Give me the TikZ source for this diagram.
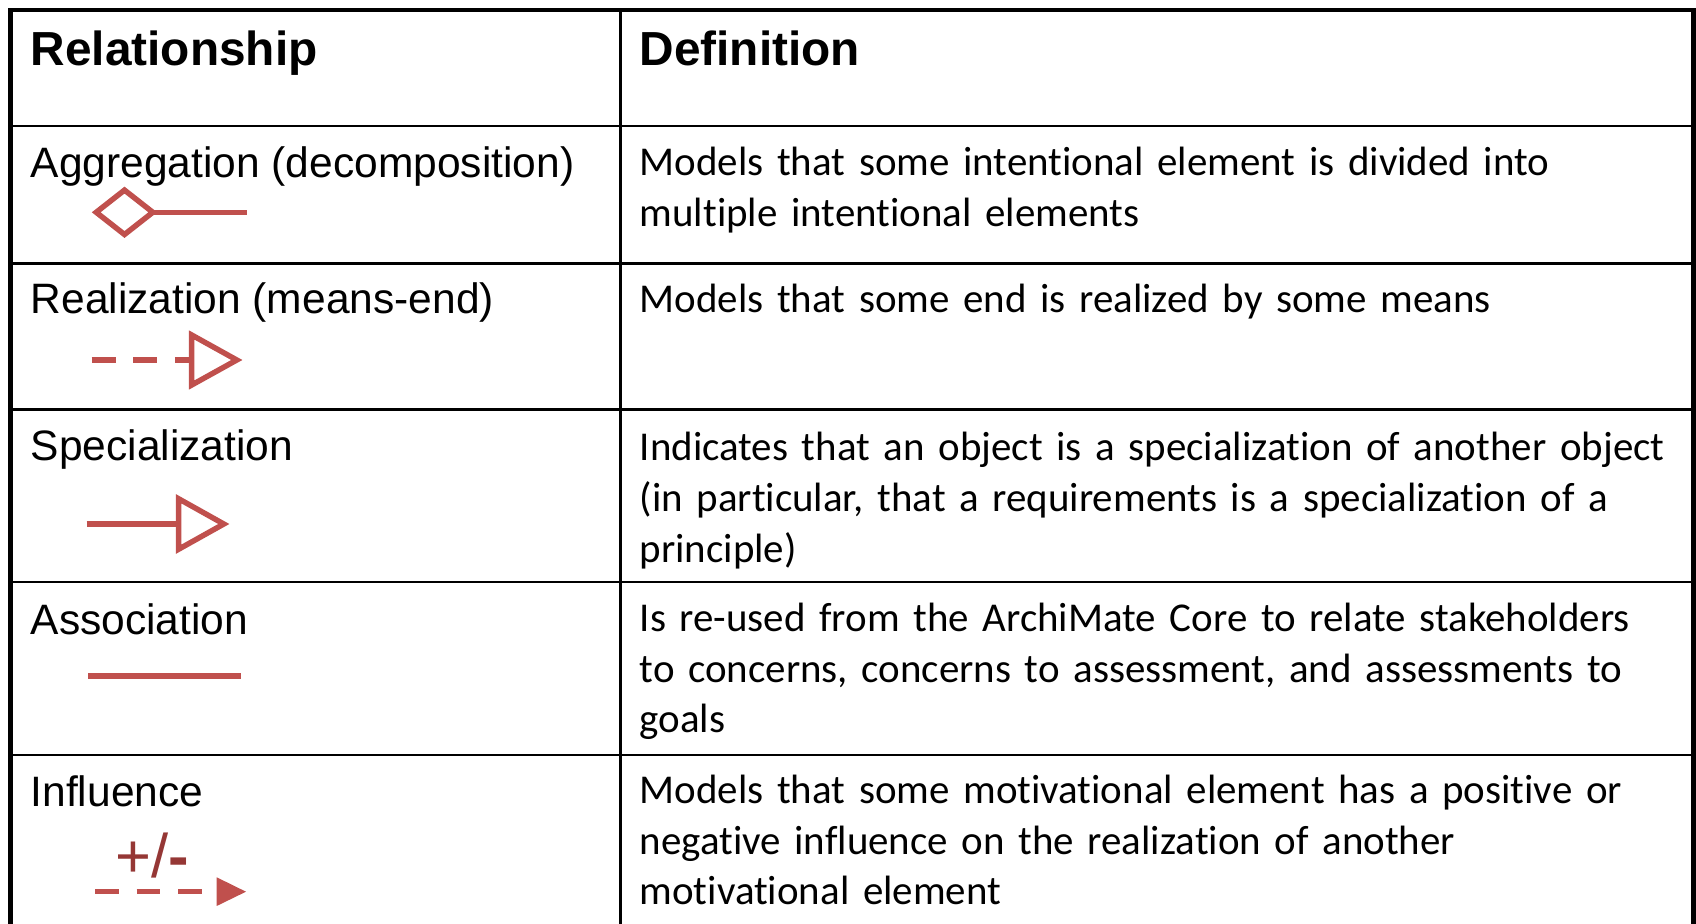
\documentclass[tikz,border=0pt]{standalone}
\usepackage{fontspec}
\setmainfont{Liberation Sans}
\newfontfamily\califont[Ligatures=NoCommon]{Carlito}
\definecolor{relred}{RGB}{192, 80, 77}
\definecolor{signred}{RGB}{149, 55, 53}
\usetikzlibrary{calc}

\begin{document}
\begin{tikzpicture}[
  frameline/.style={line width=1.4pt, black},
  gridline/.style={line width=0.8pt, black},
  relline/.style={line width=1.55pt, relred},
  headtext/.style={anchor=base west, inner sep=0pt, font=\fontsize{13.6}{16}\selectfont\bfseries},
  relname/.style={anchor=base west, inner sep=0pt, font=\fontsize{12.1}{14.4}\selectfont},
  deftext/.style={anchor=base west, inner sep=0pt, text width=10.8cm, align=left, font=\califont\fontsize{11.65}{14.4}\selectfont},
]
  \useasboundingbox (0, 0) rectangle (16.96, -9.24);

  % Table frame and rules
  \draw[frameline] (0.108, -9.24) -- (0.108, -0.10) -- (16.935, -0.10) -- (16.935, -9.24);
  \draw[gridline] (6.203, -0.10) -- (6.203, -9.24);
  \foreach \y in {-1.26, -2.633, -4.095, -5.82, -7.55}
    \draw[gridline] (0.108, \y) -- (16.935, \y);

  % Header
  \node[headtext] (hdrrel) at (0.30, -0.66) {Relationship};
  \node[headtext] (hdrdef) at (6.39, -0.66) {Definition};

  % Relationship names
  \node[relname] (nameagg) at (0.30, -1.773) {Aggregation (decomposition)};
  \node[relname] (namereal) at (0.30, -3.133) {Realization (means-end)};
  \node[relname] (namespec) at (0.30, -4.61) {Specialization};
  \node[relname] (nameassoc) at (0.30, -6.343) {Association};
  \node[relname] (nameinfl) at (0.30, -8.067) {Influence};

  % Aggregation symbol
  \draw[relline] (0.962, -2.123) -- (1.245, -1.901) -- (1.528, -2.123) -- (1.245, -2.345) -- cycle;
  \draw[relline] (1.528, -2.123) -- (2.467, -2.123);

  % Realization symbol
  \draw[relline, dash pattern=on 0.24cm off 0.176cm] (0.917, -3.60) -- (1.917, -3.60);
  \draw[relline] (1.917, -3.35) -- (2.368, -3.60) -- (1.917, -3.85) -- cycle;

  % Specialization symbol
  \draw[relline] (0.867, -5.24) -- (1.787, -5.24);
  \draw[relline] (1.787, -4.988) -- (2.238, -5.24) -- (1.787, -5.492) -- cycle;

  % Association symbol
  \draw[relline] (0.883, -6.76) -- (2.407, -6.76);

  % Influence symbol
  \node[anchor=base west, inner sep=0pt, text=signred, font=\fontsize{17.5}{20}\selectfont] (infsign) at (1.145, -8.775) {+/\textbf{-}};
  \draw[relline, dash pattern=on 0.235cm off 0.182cm] (0.95, -8.917) -- (2.167, -8.917);
  \fill[relred] (2.167, -8.773) -- (2.46, -8.917) -- (2.167, -9.06) -- cycle;

  % Definitions
  \node[deftext] (defagg) at (6.39, -1.757) {Models that some intentional element is divided into\\multiple intentional elements};
  \node[deftext] (defreal) at (6.39, -3.127) {Models that some end is realized by some means};
  \node[deftext] (defspec) at (6.39, -4.61) {Indicates that an object is a specialization of another object\\(in particular, that a requirements is a specialization of a\\principle)};
  \node[deftext] (defassoc) at (6.39, -6.317) {Is re-used from the ArchiMate Core to relate stakeholders\\to concerns, concerns to assessment, and assessments to\\goals};
  \node[deftext] (definfl) at (6.39, -8.035) {Models that some motivational element has a positive or\\negative influence on the realization of another\\motivational element};
\end{tikzpicture}
\end{document}
